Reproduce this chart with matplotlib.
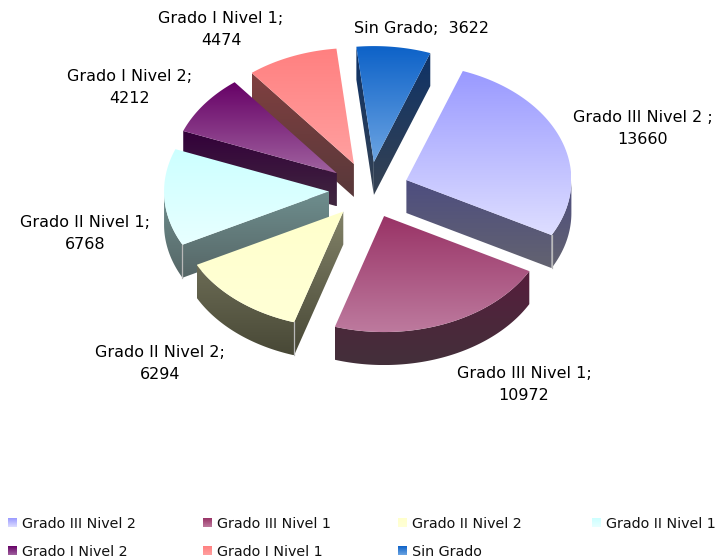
import numpy as np
import matplotlib
matplotlib.use("Agg")
import matplotlib.pyplot as plt
from matplotlib.path import Path
from matplotlib.patches import PathPatch
from matplotlib.colors import to_rgb, LinearSegmentedColormap

categories = ["Grado III Nivel 2", "Grado III Nivel 1", "Grado II Nivel 2",
              "Grado II Nivel 1", "Grado I Nivel 2", "Grado I Nivel 1", "Sin Grado"]
values = [13660, 10972, 6294, 6768, 4212, 4474, 3622]
separators = [" ;", ";", ";", ";", ";", ";", ";"]
top_colors = [("#9999ff", "#dedeff"), ("#993366", "#bd7a9e"), ("#ffffcc", "#ffffd6"),
              ("#ccffff", "#e8ffff"), ("#660066", "#a0629f"), ("#ff8080", "#ffa0a0"),
              ("#0d62c8", "#6ca4e2")]
side_colors = [("#4d4d80", "#636370"), ("#561d3c", "#43303a"), ("#828268", "#484836"),
               ("#6e8e8e", "#566666"), ("#33003a", "#40283f"), ("#804040", "#58383a"),
               ("#0d3268", "#364252")]
label_pos = [(643, 122), (524, 378), (160, 357), (85, 227), (130, 81), (221, 23), (422, 33)]
legend_x = [8, 203, 398, 592]
legend_y = [518, 546]

CX, CY, RX, RY, DEPTH, EXPLODE, START = 369, 190, 165, 116, 33, 40, 20
FS_LABEL, FS_LEGEND = 11.5, 10.3
LINE_GAP = 22

fig = plt.figure(figsize=(7.22, 5.6), dpi=100, facecolor="white")
ax = fig.add_axes([0, 0, 1, 1])
ax.axis("off")


def point(theta):
    t = np.radians(theta)
    return np.array([np.sin(t) * RX, -np.cos(t) * RY])


def fill_gradient(verts, colors, z):
    verts = np.asarray(verts)
    cm = LinearSegmentedColormap.from_list("g", [to_rgb(c) for c in colors])
    grad = np.linspace(0, 1, 256)[:, None]
    x0, x1 = verts[:, 0].min(), verts[:, 0].max()
    y0, y1 = verts[:, 1].min(), verts[:, 1].max()
    codes = [Path.MOVETO] + [Path.LINETO] * (len(verts) - 2) + [Path.CLOSEPOLY]
    patch = PathPatch(Path(verts, codes), transform=ax.transData, fc="none", ec="none")
    ax.add_patch(patch)
    im = ax.imshow(grad, cmap=cm, extent=(x0, x1, y1, y0), aspect="auto",
                   interpolation="bilinear", zorder=z, origin="upper")
    im.set_clip_path(patch)


def draw_slice(i, s, e, z):
    mid = np.radians((s + e) / 2)
    apex = np.array([CX + EXPLODE * np.sin(mid), CY - EXPLODE * np.cos(mid) * RY / RX])
    th = np.linspace(s, e, 120)
    arc = np.array([point(t) for t in th]) + apex
    top = np.vstack([apex, arc, apex])
    down = np.array([0, DEPTH])

    walls = []
    ths = th[np.cos(np.radians(th)) < 0]
    if len(ths) > 1:
        a = np.array([point(t) for t in ths]) + apex
        walls.append(np.vstack([a, (a + down)[::-1], a[0]]))
    for t, facing in ((s, np.sin(np.radians(s)) < 0), (e, np.sin(np.radians(e)) > 0)):
        if facing:
            p = point(t) + apex
            walls.append(np.array([apex, p, p + down, apex + down, apex]))
    all_pts = np.vstack(walls)
    y0, y1 = all_pts[:, 1].min(), all_pts[:, 1].max()
    c0, c1 = np.array(to_rgb(side_colors[i][0])), np.array(to_rgb(side_colors[i][1]))
    for w in walls:
        f0 = (w[:, 1].min() - y0) / (y1 - y0)
        f1 = (w[:, 1].max() - y0) / (y1 - y0)
        fill_gradient(w, (c0 + (c1 - c0) * f0, c0 + (c1 - c0) * f1), z)
    fill_gradient(top, top_colors[i], z + 0.5)
    for t, visible in ((s, np.sin(np.radians(s)) < 0), (e, np.sin(np.radians(e)) > 0)):
        if visible and np.cos(np.radians(t)) < 0:
            p = point(t) + apex
            ax.plot([p[0], p[0]], [p[1], p[1] + DEPTH], color="#b8b8b8", lw=0.9, zorder=z + 0.6)


total = sum(values)
edges = START + np.concatenate([[0], np.cumsum(values)]) / total * 360
draw_order = [5, 4, 6, 3, 0, 2, 1]
for z, i in enumerate(draw_order):
    draw_slice(i, edges[i], edges[i + 1], z + 2)

for i, (cat, val, sep) in enumerate(zip(categories, values, separators)):
    x, y = label_pos[i]
    if cat == "Sin Grado":
        ax.text(x, y, f"{cat}{sep}  {val}", ha="center", va="baseline", fontsize=FS_LABEL, zorder=30)
    else:
        ax.text(x, y, f"{cat}{sep}", ha="center", va="baseline", fontsize=FS_LABEL, zorder=30)
        ax.text(x, y + LINE_GAP, f"{val}", ha="center", va="baseline", fontsize=FS_LABEL, zorder=30)

for i, cat in enumerate(categories):
    row, col = divmod(i, 4)
    x, y = legend_x[col], legend_y[row]
    sq = [(x, y), (x + 9, y), (x + 9, y + 9), (x, y + 9), (x, y)]
    fill_gradient(sq, top_colors[i], 20)
    ax.text(x + 14, y + 10, cat, ha="left", va="baseline", fontsize=FS_LEGEND, color="#111111", zorder=30)

ax.set_xlim(0, 722)
ax.set_ylim(560, 0)
fig.savefig("out.png", dpi=100, facecolor="white")
